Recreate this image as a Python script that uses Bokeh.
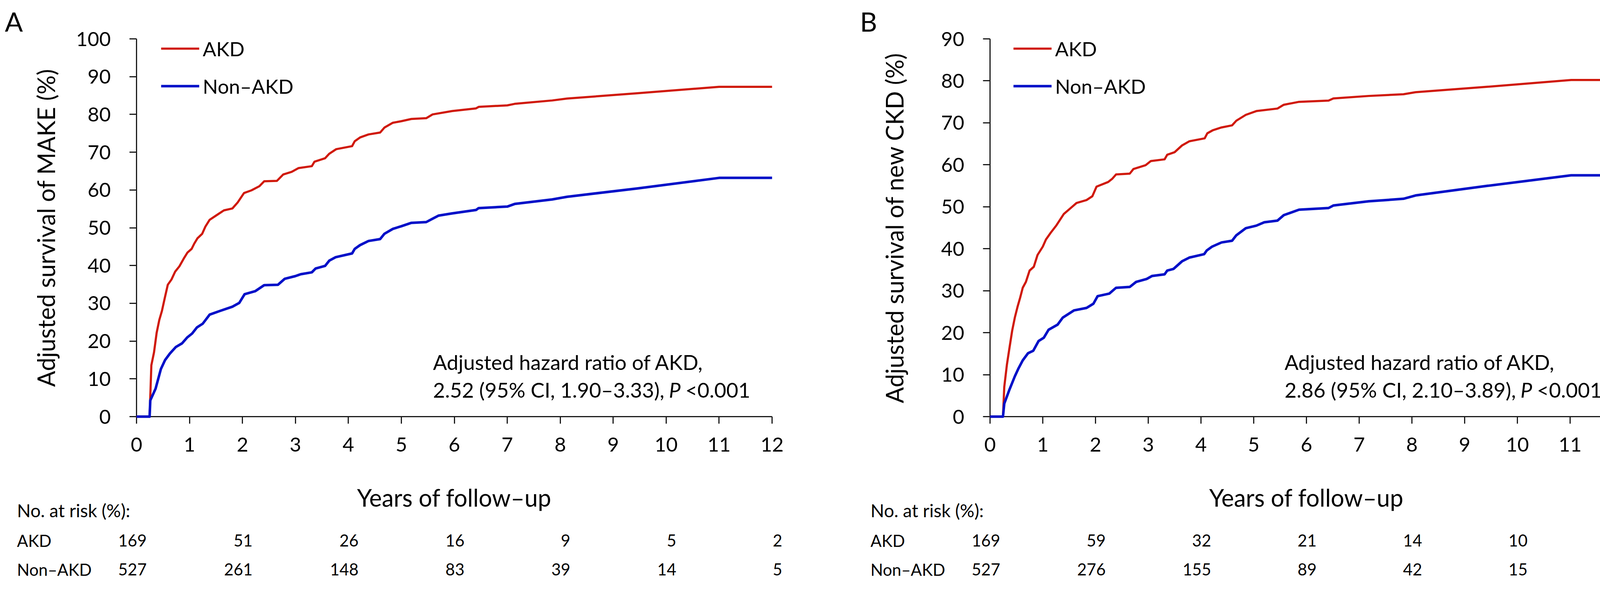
from bokeh.plotting import figure
from bokeh.models import (Range1d, FixedTicker, Legend, LegendItem)
from bokeh.layouts import row
from bokeh.core.properties import value
from bokeh.embed import file_html
from bokeh.resources import INLINE

FONT = "Lato"
RED = "#D0190B"
BLUE = "#0010C8"
AXIS = "#1a1a1a"

# ---------------- data ----------------
x_ticks = list(range(0, 13))
risk_years = [0, 2, 4, 6, 8, 10, 12]

# Panel A: MAKE
a_akd_t = [0, 0.247, 0.28, 0.33, 0.38, 0.43, 0.48, 0.53, 0.59, 0.66, 0.73, 0.81, 0.89, 0.96,
           1.04, 1.09, 1.15, 1.24, 1.30, 1.38, 1.52, 1.65, 1.81, 1.91, 2.03, 2.17, 2.32, 2.41,
           2.65, 2.77, 2.93, 3.06, 3.31, 3.36, 3.56, 3.64, 3.77, 4.07, 4.12, 4.22, 4.38, 4.60,
           4.68, 4.84, 5.0, 5.19, 5.47, 5.59, 5.96, 6.41, 6.46, 7.0, 7.14, 7.85, 8.13, 9.45,
           11.0, 12.0]
a_akd_v = [0, 0, 13.6, 17.0, 22.2, 25.6, 28.0, 31.2, 34.9, 36.3, 38.4, 39.8, 41.8, 43.4,
           44.4, 45.8, 47.2, 48.4, 50.3, 52.1, 53.4, 54.6, 55.1, 56.7, 59.2, 59.9, 61.0, 62.3,
           62.4, 64.1, 64.8, 65.8, 66.3, 67.5, 68.4, 69.6, 70.8, 71.6, 72.9, 73.9, 74.7, 75.2,
           76.5, 77.8, 78.2, 78.8, 79.0, 80.0, 80.9, 81.6, 82.0, 82.4, 82.8, 83.7, 84.2, 85.6,
           87.3, 87.3]
a_non_t = [0, 0.247, 0.26, 0.36, 0.46, 0.54, 0.63, 0.74, 0.86, 0.96, 1.05, 1.14, 1.25, 1.38,
           1.58, 1.81, 1.94, 2.04, 2.24, 2.41, 2.67, 2.80, 3.0, 3.1, 3.31, 3.38, 3.56, 3.64,
           3.76, 4.07, 4.12, 4.22, 4.38, 4.60, 4.68, 4.84, 5.0, 5.19, 5.47, 5.59, 5.70, 5.96,
           6.41, 6.46, 7.0, 7.14, 7.85, 8.13, 9.45, 11.0, 12.0]
a_non_v = [0, 0, 4.3, 7.4, 12.6, 15.0, 16.7, 18.4, 19.4, 21.0, 22.0, 23.6, 24.6, 27.0,
           28.0, 29.1, 30.1, 32.4, 33.2, 34.8, 34.9, 36.5, 37.2, 37.7, 38.2, 39.2, 39.9, 41.3,
           42.2, 43.2, 44.4, 45.4, 46.5, 47.0, 48.4, 49.7, 50.4, 51.3, 51.5, 52.4, 53.2, 53.8,
           54.7, 55.2, 55.6, 56.3, 57.5, 58.2, 60.4, 63.2, 63.2]
a_risk_akd = [169, 51, 26, 16, 9, 5, 2]
a_risk_non = [527, 261, 148, 83, 39, 14, 5]
a_y_ticks = list(range(0, 101, 10))

# Panel B: new CKD
b_akd_t = [0, 0.245, 0.27, 0.32, 0.37, 0.42, 0.47, 0.52, 0.57, 0.62, 0.68, 0.75, 0.83, 0.90,
           1.0, 1.06, 1.15, 1.26, 1.40, 1.53, 1.64, 1.83, 1.94, 2.02, 2.24, 2.32, 2.39, 2.65,
           2.72, 2.95, 3.05, 3.31, 3.36, 3.50, 3.64, 3.78, 4.07, 4.12, 4.22, 4.39, 4.59, 4.67,
           4.85, 5.05, 5.45, 5.57, 5.86, 6.42, 6.51, 7.18, 7.84, 8.07, 9.44, 11.02, 12.0]
b_akd_v = [0, 0, 7.1, 12.4, 16.5, 20.5, 23.6, 26.1, 28.3, 30.7, 32.1, 34.8, 35.7, 38.5,
           40.5, 42.2, 43.8, 45.6, 48.3, 49.7, 50.9, 51.6, 52.5, 54.8, 55.9, 56.7, 57.7, 57.9,
           59.0, 59.9, 60.9, 61.3, 62.4, 63.0, 64.6, 65.6, 66.3, 67.5, 68.2, 68.9, 69.4, 70.5,
           71.9, 72.8, 73.4, 74.3, 75.0, 75.3, 75.8, 76.4, 76.8, 77.3, 78.6, 80.2, 80.2]
b_non_t = [0, 0.245, 0.27, 0.37, 0.47, 0.54, 0.62, 0.72, 0.82, 0.92, 1.02, 1.11, 1.28, 1.38,
           1.59, 1.83, 1.96, 2.04, 2.26, 2.39, 2.65, 2.77, 2.97, 3.07, 3.31, 3.36, 3.48, 3.64,
           3.78, 4.06, 4.11, 4.21, 4.39, 4.59, 4.67, 4.85, 5.05, 5.20, 5.45, 5.57, 5.86, 6.42,
           6.51, 7.18, 7.84, 8.07, 9.44, 11.02, 12.0]
b_non_v = [0, 0, 3.1, 6.5, 9.6, 11.5, 13.4, 15.1, 15.7, 18.0, 18.8, 20.7, 21.9, 23.6,
           25.3, 25.9, 26.9, 28.7, 29.3, 30.7, 30.9, 32.1, 32.8, 33.5, 33.9, 34.8, 35.2, 37.0,
           37.9, 38.7, 39.6, 40.5, 41.5, 41.9, 43.2, 44.9, 45.5, 46.3, 46.7, 48.0, 49.3, 49.7,
           50.3, 51.3, 51.9, 52.7, 55.0, 57.5, 57.5]
b_risk_akd = [169, 59, 32, 21, 14, 10, 3]
b_risk_non = [527, 276, 155, 89, 42, 15, 5]
b_y_ticks = list(range(0, 91, 10))

series_names = ["AKD", "Non\u2013AKD"]
x_title = "Years of follow\u2013up"
risk_title = "No. at risk (%):"

# page layout (pixels from page top-left)
FT, FB = 107, 1074          # frame top / bottom
PAGE_BOTTOM = 1498


def panel(letter, letter_x, ymax, y_ticks, ylabel, frame_left, frame_right, fig_left, fig_width,
          akd_t, akd_v, non_t, non_v, risk_akd, risk_non, hr1, hr2, hr_x, legend_dx,
          table_x, ylab_standoff):
    fw = frame_right - frame_left
    fh = FB - FT

    def xd(px):
        return (px - frame_left) * 12.0 / fw

    def yd(py):
        return (FB - py) * float(ymax) / fh

    p = figure(frame_width=fw, frame_height=fh,
               min_border_left=frame_left - fig_left,
               min_border_right=fig_left + fig_width - frame_right,
               min_border_top=FT - 8, min_border_bottom=PAGE_BOTTOM - FB,
               x_range=Range1d(0, 12), y_range=Range1d(0, ymax),
               output_backend="svg", toolbar_location=None)
    p.outline_line_color = None
    p.xgrid.visible = False
    p.ygrid.visible = False
    p.background_fill_color = "white"
    p.border_fill_color = "white"

    # panel letter as the title
    p.title.text = letter
    p.title.align = "left"
    p.title.offset = letter_x - frame_left
    p.title.standoff = 10
    p.title.text_font = FONT
    p.title.text_font_size = "68px"
    p.title.text_font_style = "normal"
    p.title.text_color = "black"

    for ax in (p.xaxis[0], p.yaxis[0]):
        ax.axis_line_color = AXIS
        ax.axis_line_width = 3
        ax.major_tick_line_color = AXIS
        ax.major_tick_line_width = 3
        ax.major_tick_out = 18
        ax.major_tick_in = 0
        ax.minor_tick_line_color = None
        ax.major_label_text_font = FONT
        ax.major_label_text_font_size = "51px"
        ax.major_label_text_color = "black"
        ax.axis_label_text_font = FONT
        ax.axis_label_text_font_size = "61px"
        ax.axis_label_text_font_style = "normal"
        ax.axis_label_text_color = "black"

    p.xaxis.ticker = FixedTicker(ticks=x_ticks)
    p.yaxis.ticker = FixedTicker(ticks=y_ticks)
    p.xaxis.major_label_standoff = 35
    p.yaxis.major_label_standoff = 48
    p.xaxis.axis_label = x_title
    p.yaxis.axis_label = ylabel
    p.xaxis.axis_label_standoff = 78
    p.yaxis.axis_label_standoff = ylab_standoff

    r_akd = p.line(akd_t, akd_v, line_color=RED, line_width=5.5, line_join="round", level="overlay")
    r_non = p.line(non_t, non_v, line_color=BLUE, line_width=6.5, line_join="round", level="overlay")

    # legend
    row_h, gap = 62, 34
    leg_h = 2 * row_h + gap
    leg_top = 132 - row_h / 2
    legend = Legend(items=[LegendItem(label=series_names[0], renderers=[r_akd]),
                           LegendItem(label=series_names[1], renderers=[r_non])],
                    location=(legend_dx, FB - leg_top - leg_h),
                    glyph_width=98, glyph_height=row_h, label_height=row_h,
                    label_standoff=9, spacing=gap, padding=0, margin=0,
                    border_line_color=None, background_fill_alpha=0,
                    label_text_font=FONT, label_text_font_size="51px",
                    label_text_color="black")
    p.add_layout(legend)

    def txt(px, py, s, size, style="normal", align="left", xs=None, x_offset=0):
        xs_ = [xd(px)] if xs is None else xs
        p.text(x=xs_, y=[yd(py)] * len(xs_), text=s if isinstance(s, list) else [s],
               text_font=value(FONT), text_font_size=value(size), text_font_style=style,
               text_align=align, text_baseline="middle", text_color="black",
               x_offset=x_offset, level="overlay")

    # hazard ratio annotation (y = vertical centre of the capitals)
    txt(hr_x, 934, hr1, "53px")
    txt(hr_x, 1005, hr2, "53px")
    txt(hr_x + 604, 1005, "P", "53px", style="italic")
    txt(hr_x + 646, 1005, "<0.001", "53px")

    # at-risk table (below the frame; overlay level so it is not clipped to the frame)
    txt(table_x, 1314, risk_title, "46px")
    for name, vals, cy in ((series_names[0], risk_akd, 1391), (series_names[1], risk_non, 1465)):
        txt(table_x, cy, name, "42px")
        txt(0, cy, [str(v) for v in vals], "42px", align="right", xs=risk_years, x_offset=26)
    return p


pA = panel("A", 20, 100, a_y_ticks, "Adjusted survival of MAKE (%)", 357, 1984, 8, 2105,
           a_akd_t, a_akd_v, a_non_t, a_non_v, a_risk_akd, a_risk_non,
           "Adjusted hazard ratio of AKD,", "2.52 (95% CI, 1.90\u20133.33),", 1116, 63, 51, 38)
pB = panel("B", 2209, 90, b_y_ticks, "Adjusted survival of new CKD (%)", 2542, 4162, 2113, 2105,
           b_akd_t, b_akd_v, b_non_t, b_non_v, b_risk_akd, b_risk_non,
           "Adjusted hazard ratio of AKD,", "2.86 (95% CI, 2.10\u20133.89),", 3296, 60, 2236, 80)

layout = row(pA, pB, spacing=0)
open("out.html", "w").write(file_html(layout, INLINE))
